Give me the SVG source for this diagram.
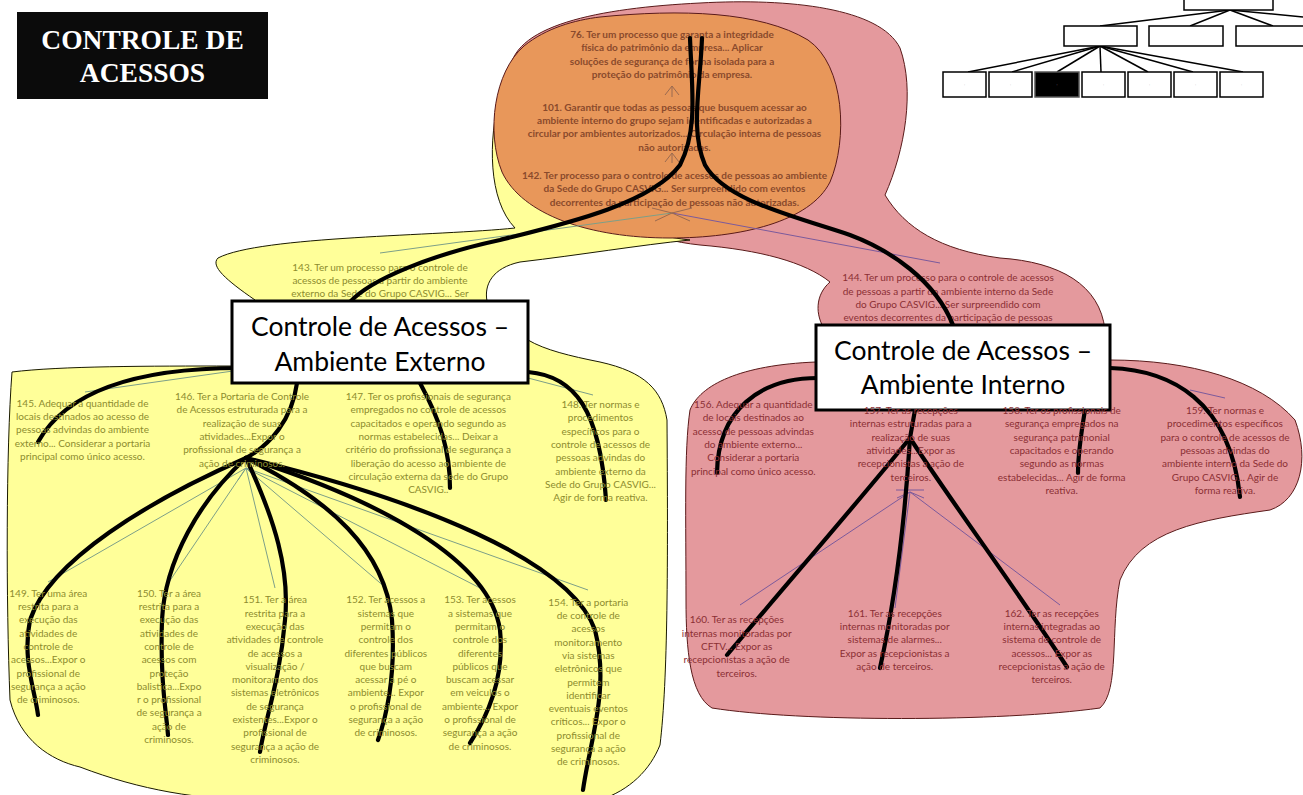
<svg xmlns="http://www.w3.org/2000/svg" width="1303" height="795" viewBox="0 0 1303 795">
<style>
  .ty { font-family: Lato, "Liberation Sans", sans-serif; font-size: 10px; fill: #8d8c2e; text-anchor: middle; }
  .tr { font-family: Lato, "Liberation Sans", sans-serif; font-size: 10px; fill: #8b2f34; text-anchor: middle; }
  .to { font-family: Lato, "Liberation Sans", sans-serif; font-size: 10px; fill: #8a4a2c; text-anchor: middle; font-weight: bold; }
  .box { fill: #ffffff; stroke: #000000; stroke-width: 3; }
  .boxt { font-family: Lato, "Liberation Sans", sans-serif; font-size: 26.5px; fill: #000000; text-anchor: middle; }
  .thick { fill: none; stroke: #000000; stroke-width: 4.2; stroke-linecap: round; }
  .thg { fill: none; stroke: #7d9f88; stroke-width: 1; }
  .thp { fill: none; stroke: #7b5a9c; stroke-width: 1; }
  .tho { fill: none; stroke: #9a6a50; stroke-width: 1; }
  .mm { fill: #ffffff; stroke: #000000; stroke-width: 1.5; }
  .mml { stroke: #000000; stroke-width: 1.5; }
  .mmt { font-family: "Liberation Sans", sans-serif; font-size: 4px; fill: #aaaaaa; text-anchor: middle; }
</style>

<!-- title block -->
<g id="title">
  <rect x="17" y="12" width="251" height="87" fill="#0b0b0b"/>
  <text x="142.5" y="48.5" font-family="'Liberation Serif', serif" font-weight="bold" font-size="27.5" fill="#ffffff" text-anchor="middle">CONTROLE DE</text>
  <text x="142.5" y="81.7" font-family="'Liberation Serif', serif" font-weight="bold" font-size="27.5" fill="#ffffff" text-anchor="middle">ACESSOS</text>
</g>

<!-- overview tree, top right -->
<g id="overview">
  <line class="mml" x1="1230" y1="10" x2="1100" y2="26"/>
  <line class="mml" x1="1230" y1="10" x2="1190" y2="26"/>
  <line class="mml" x1="1230" y1="10" x2="1273" y2="26"/>
  <line class="mml" x1="1230" y1="10" x2="1303" y2="17"/>
  <line class="mml" x1="1100" y1="46" x2="968" y2="72"/>
  <line class="mml" x1="1100" y1="46" x2="1012" y2="72"/>
  <line class="mml" x1="1100" y1="46" x2="1057" y2="72"/>
  <line class="mml" x1="1100" y1="46" x2="1101" y2="72"/>
  <line class="mml" x1="1100" y1="46" x2="1148" y2="72"/>
  <line class="mml" x1="1100" y1="46" x2="1193" y2="72"/>
  <line class="mml" x1="1100" y1="46" x2="1243" y2="72"/>
  <rect class="mm" x="1184" y="-4" width="89" height="14"/>
  <rect class="mm" x="1064" y="26" width="73" height="20"/>
  <rect class="mm" x="1149" y="26" width="74" height="20"/>
  <rect class="mm" x="1236" y="26" width="74" height="20"/>
  <rect class="mm" x="943" y="72" width="43" height="25"/>
  <rect class="mm" x="989" y="72" width="43" height="25"/>
  <rect x="1035" y="72" width="44" height="25" fill="#000000" stroke="#555555" stroke-width="1.5"/>
  <rect class="mm" x="1082" y="72" width="43" height="25"/>
  <rect class="mm" x="1128" y="72" width="43" height="25"/>
  <rect class="mm" x="1174" y="72" width="43" height="25"/>
  <rect class="mm" x="1220" y="72" width="43" height="25"/>
  <text class="mmt" x="964.5" y="86">:</text>
  <text class="mmt" x="1010.5" y="86">:</text>
  <text class="mmt" x="1057" y="86" fill="#777777">:</text>
  <text class="mmt" x="1103.5" y="86">:</text>
  <text class="mmt" x="1149.5" y="86">:</text>
  <text class="mmt" x="1195.5" y="86">:</text>
  <text class="mmt" x="1241.5" y="86">:</text>
</g>

<!-- internal access area -->
<g id="area-interno">
  <path d="M 510,75 C 508,25 600,8 700,3 C 790,-2 880,8 900,48 C 915,90 905,150 885,195 C 905,228 940,250 1000,258 C 1060,262 1100,285 1105,330 L 1110,360 C 1190,360 1260,380 1295,420 C 1310,460 1300,500 1270,510 C 1200,520 1140,530 1120,580 C 1110,630 1120,690 1100,708 C 1000,722 800,722 712,708 C 690,695 686,650 686,600 C 686,520 684,450 690,410 C 700,385 740,365 816,362 L 825,330 C 815,315 815,295 830,282 C 805,262 760,250 700,245 C 600,235 515,160 510,75 Z" fill="#e4999d" stroke="#5a1a1a" stroke-width="1"/>
</g>

<!-- external access area -->
<g id="area-externo">
  <path d="M 500,95 C 488,140 488,200 515,228 C 440,236 260,236 218,258 C 210,266 226,280 255,300 L 232,366 C 150,366 60,366 12,372 C 6,450 6,600 10,700 C 20,740 50,760 80,767 C 140,790 200,800 260,800 L 600,800 C 630,790 650,770 660,745 C 668,680 668,560 667,420 C 662,390 645,372 600,362 C 570,356 545,350 528,340 L 528,301 L 487,301 C 484,285 492,268 520,262 C 580,255 640,245 690,240 C 600,230 530,180 500,95 Z" fill="#ffff99" stroke="#1a1a00" stroke-width="1"/>
</g>

<!-- company-wide area -->
<g id="area-empresa">
  <path d="M 600,17 C 680,9 760,11 808,40 C 845,65 848,140 830,182 C 810,222 740,238 670,238 C 590,238 522,215 502,172 C 486,132 494,72 524,46 C 546,28 575,20 600,17 Z" fill="#e8975a" stroke="#5a1a1a" stroke-width="1"/>
</g>

<!-- thin relation lines with open arrowheads -->
<g id="relations">
  <path class="tho" d="M 672,86 L 672,97 M 665,95 L 672,86 L 679,95"/>
  <path class="tho" d="M 672,153 L 672,163 M 665,162 L 672,153 L 679,162"/>
  <path class="thg" d="M 380,253 L 672,213"/>
  <path class="thp" d="M 940,263 L 672,213"/>
  <path class="tho" d="M 655,221 L 672,213 L 690,221 M 652,208 L 672,213 L 692,208"/>
  <path class="thg" d="M 85,392 L 240,370"/>
  <path class="thg" d="M 593,395 L 528,378"/>
  <path class="thg" d="M 48,582 L 246,468 M 169,582 L 246,468 M 275,588 L 246,468 M 386,588 L 246,468 M 480,588 L 246,468 M 588,590 L 246,468"/>
  <path class="thg" d="M 238,480 L 246,468 L 256,478"/>
  <path class="thp" d="M 740,605 L 910,492 M 895,608 L 910,492 M 1060,605 L 910,492"/>
  <path class="thp" d="M 897,498 L 910,492 L 924,498 M 896,490 L 924,490"/>
  <path class="thp" d="M 1190,390 L 1225,398"/>
</g>

<!-- texts of the company-wide area -->
<g id="n76">
  <text class="to" x="672" y="38">76. Ter um processo que garanta a integridade</text>
  <text class="to" x="672" y="51.3">física do patrimônio da empresa... Aplicar</text>
  <text class="to" x="672" y="64.6">soluções de segurança de forma isolada para a</text>
  <text class="to" x="672" y="78">proteção do patrimônio da empresa.</text>
</g>
<g id="n101">
  <text class="to" x="674.5" y="110.7">101. Garantir que todas as pessoas que busquem acessar ao</text>
  <text class="to" x="674.5" y="124">ambiente interno do grupo sejam identificadas e autorizadas a</text>
  <text class="to" x="674.5" y="137.3">circular por ambientes autorizados... Circulação interna de pessoas</text>
  <text class="to" x="674.5" y="150.6">não autorizadas.</text>
</g>
<g id="n142">
  <text class="to" x="674.5" y="179">142. Ter processo para o controle de acessos de pessoas ao ambiente</text>
  <text class="to" x="674.5" y="192.3">da Sede do Grupo CASVIG... Ser surpreendido com eventos</text>
  <text class="to" x="674.5" y="205.6">decorrentes da participação de pessoas não autorizadas.</text>
</g>

<!-- area labels -->
<g id="n143">
  <text class="ty" x="380" y="270.7">143. Ter um processo para o controle de</text>
  <text class="ty" x="380" y="284">acessos de pessoas a partir do ambiente</text>
  <text class="ty" x="380" y="297.3">externo da Sede do Grupo CASVIG... Ser</text>
</g>
<g id="n144">
  <text class="tr" x="948" y="281.3">144. Ter um processo para o controle de acessos</text>
  <text class="tr" x="948" y="294.6">de pessoas a partir do ambiente interno da Sede</text>
  <text class="tr" x="948" y="307.9">do Grupo CASVIG... Ser surpreendido com</text>
  <text class="tr" x="948" y="321.2">eventos decorrentes da participação de pessoas</text>
</g>

<!-- tree connectors -->
<g id="connectors">
  <path class="thick" d="M 690,38 C 692,90 698,130 680,165 C 650,205 560,225 500,240 C 430,255 370,280 350,302"/>
  <path class="thick" d="M 702,38 C 700,90 690,130 705,165 C 725,200 790,215 850,235 C 890,250 935,280 953,325"/>
  <path class="thick" d="M 240,368 C 150,368 70,385 38,442"/>
  <path class="thick" d="M 297,383 C 292,420 270,445 246,458"/>
  <path class="thick" d="M 420,383 C 440,420 450,450 450,488"/>
  <path class="thick" d="M 528,372 C 575,376 600,410 606,500"/>
  <path class="thick" d="M 246,458 C 150,500 50,560 30,620 C 22,660 35,690 38,715"/>
  <path class="thick" d="M 246,458 C 200,500 165,560 162,620 C 160,680 166,710 168,735"/>
  <path class="thick" d="M 246,458 C 275,520 290,570 285,620 C 280,680 265,720 260,752"/>
  <path class="thick" d="M 246,458 C 330,500 385,550 392,620 C 396,680 385,720 378,740"/>
  <path class="thick" d="M 246,458 C 380,500 490,560 500,630 C 505,680 485,720 470,743"/>
  <path class="thick" d="M 246,458 C 420,500 570,560 595,630 C 610,690 590,740 583,790"/>
  <path class="thick" d="M 818,378 C 760,378 718,410 717,473"/>
  <path class="thick" d="M 915,410 L 910,438"/>
  <path class="thick" d="M 910,438 C 860,500 790,580 727,655"/>
  <path class="thick" d="M 910,438 C 905,520 895,600 880,668"/>
  <path class="thick" d="M 910,438 C 950,500 1010,580 1067,667"/>
  <path class="thick" d="M 1085,410 C 1080,440 1078,455 1078,473"/>
  <path class="thick" d="M 1110,368 C 1170,370 1230,400 1240,497"/>
</g>

<!-- main branch boxes -->
<g id="externo">
  <rect class="box" x="232" y="301" width="296" height="82"/>
  <text class="boxt" x="380" y="336">Controle de Acessos –</text>
  <text class="boxt" x="380" y="371">Ambiente Externo</text>
</g>
<g id="interno">
  <rect class="box" x="816" y="325" width="294" height="85"/>
  <text class="boxt" x="963" y="360">Controle de Acessos –</text>
  <text class="boxt" x="963" y="394">Ambiente Interno</text>
</g>

<!-- external branch items -->
<g id="n145">
  <text class="ty" x="82.5" y="406.7">145. Adequar a quantidade de</text>
  <text class="ty" x="82.5" y="420">locais destinados ao acesso de</text>
  <text class="ty" x="82.5" y="433.3">pessoas advindas do ambiente</text>
  <text class="ty" x="82.5" y="446.6">externo... Considerar a portaria</text>
  <text class="ty" x="82.5" y="459.9">principal como único acesso.</text>
</g>
<g id="n146">
  <text class="ty" x="242" y="400">146. Ter a Portaria de Controle</text>
  <text class="ty" x="242" y="413.3">de Acessos estruturada para a</text>
  <text class="ty" x="242" y="426.6">realização de suas</text>
  <text class="ty" x="242" y="439.9">atividades...Expor o</text>
  <text class="ty" x="242" y="453.2">profissional de segurança a</text>
  <text class="ty" x="242" y="466.5">ação de criminosos.</text>
</g>
<g id="n147">
  <text class="ty" x="428.3" y="400">147. Ter os profissionais de segurança</text>
  <text class="ty" x="428.3" y="413.3">empregados no controle de acessos</text>
  <text class="ty" x="428.3" y="426.6">capacitados e operando segundo as</text>
  <text class="ty" x="428.3" y="439.9">normas estabelecidas... Deixar a</text>
  <text class="ty" x="428.3" y="453.2">critério do profissional de segurança a</text>
  <text class="ty" x="428.3" y="466.5">liberação do acesso ao ambiente de</text>
  <text class="ty" x="428.3" y="479.8">circulação externa da sede do Grupo</text>
  <text class="ty" x="428.3" y="493.1">CASVIG..</text>
</g>
<g id="n148">
  <text class="ty" x="600.5" y="408">148. Ter normas e</text>
  <text class="ty" x="600.5" y="421.3">procedimentos</text>
  <text class="ty" x="600.5" y="434.6">específicos para o</text>
  <text class="ty" x="600.5" y="447.9">controle de acessos de</text>
  <text class="ty" x="600.5" y="461.2">pessoas advindas do</text>
  <text class="ty" x="600.5" y="474.5">ambiente externo da</text>
  <text class="ty" x="600.5" y="487.8">Sede do Grupo CASVIG...</text>
  <text class="ty" x="600.5" y="501.1">Agir de forma reativa.</text>
</g>
<g id="n149">
  <text class="ty" x="48.3" y="596.7">149. Ter uma área</text>
  <text class="ty" x="48.3" y="610">restrita para a</text>
  <text class="ty" x="48.3" y="623.3">execução das</text>
  <text class="ty" x="48.3" y="636.6">atividades de</text>
  <text class="ty" x="48.3" y="649.9">controle de</text>
  <text class="ty" x="48.3" y="663.2">acessos...Expor o</text>
  <text class="ty" x="48.3" y="676.5">profissional de</text>
  <text class="ty" x="48.3" y="689.8">segurança a ação</text>
  <text class="ty" x="48.3" y="703.1">de criminosos.</text>
</g>
<g id="n150">
  <text class="ty" x="169" y="596.7">150. Ter a área</text>
  <text class="ty" x="169" y="610">restrita para a</text>
  <text class="ty" x="169" y="623.3">execução das</text>
  <text class="ty" x="169" y="636.6">atividades de</text>
  <text class="ty" x="169" y="649.9">controle de</text>
  <text class="ty" x="169" y="663.2">acessos com</text>
  <text class="ty" x="169" y="676.5">proteção</text>
  <text class="ty" x="169" y="689.8">balistica...Expo</text>
  <text class="ty" x="169" y="703.1">r o profissional</text>
  <text class="ty" x="169" y="716.4">de segurança a</text>
  <text class="ty" x="169" y="729.7">ação de</text>
  <text class="ty" x="169" y="743">criminosos.</text>
</g>
<g id="n151">
  <text class="ty" x="275" y="603.3">151. Ter a área</text>
  <text class="ty" x="275" y="616.6">restrita para a</text>
  <text class="ty" x="275" y="629.9">execução das</text>
  <text class="ty" x="275" y="643.2">atividades de controle</text>
  <text class="ty" x="275" y="656.5">de acessos a</text>
  <text class="ty" x="275" y="669.8">visualização /</text>
  <text class="ty" x="275" y="683.1">monitoramento dos</text>
  <text class="ty" x="275" y="696.4">sistemas eletrônicos</text>
  <text class="ty" x="275" y="709.7">de segurança</text>
  <text class="ty" x="275" y="723">existentes...Expor o</text>
  <text class="ty" x="275" y="736.3">profissional de</text>
  <text class="ty" x="275" y="749.6">segurança a ação de</text>
  <text class="ty" x="275" y="762.9">criminosos.</text>
</g>
<g id="n152">
  <text class="ty" x="385.8" y="603.3">152. Ter acessos a</text>
  <text class="ty" x="385.8" y="616.6">sistemas que</text>
  <text class="ty" x="385.8" y="629.9">permitam o</text>
  <text class="ty" x="385.8" y="643.2">controle dos</text>
  <text class="ty" x="385.8" y="656.5">diferentes públicos</text>
  <text class="ty" x="385.8" y="669.8">que buscam</text>
  <text class="ty" x="385.8" y="683.1">acessar a pé o</text>
  <text class="ty" x="385.8" y="696.4">ambiente... Expor</text>
  <text class="ty" x="385.8" y="709.7">o profissional de</text>
  <text class="ty" x="385.8" y="723">segurança a ação</text>
  <text class="ty" x="385.8" y="736.3">de criminosos.</text>
</g>
<g id="n153">
  <text class="ty" x="480" y="603.3">153. Ter acessos</text>
  <text class="ty" x="480" y="616.6">a sistemas que</text>
  <text class="ty" x="480" y="629.9">permitam o</text>
  <text class="ty" x="480" y="643.2">controle dos</text>
  <text class="ty" x="480" y="656.5">diferentes</text>
  <text class="ty" x="480" y="669.8">públicos que</text>
  <text class="ty" x="480" y="683.1">buscam acessar</text>
  <text class="ty" x="480" y="696.4">em veiculos o</text>
  <text class="ty" x="480" y="709.7">ambiente... Expor</text>
  <text class="ty" x="480" y="723">o profissional de</text>
  <text class="ty" x="480" y="736.3">segurança a ação</text>
  <text class="ty" x="480" y="749.6">de criminosos.</text>
</g>
<g id="n154">
  <text class="ty" x="588.3" y="605.7">154. Ter a portaria</text>
  <text class="ty" x="588.3" y="619">de controle de</text>
  <text class="ty" x="588.3" y="632.3">acessos</text>
  <text class="ty" x="588.3" y="645.6">monitoramento</text>
  <text class="ty" x="588.3" y="658.9">via sistemas</text>
  <text class="ty" x="588.3" y="672.2">eletrônicos que</text>
  <text class="ty" x="588.3" y="685.5">permitem</text>
  <text class="ty" x="588.3" y="698.8">identificar</text>
  <text class="ty" x="588.3" y="712.1">eventuais eventos</text>
  <text class="ty" x="588.3" y="725.4">críticos... Expor o</text>
  <text class="ty" x="588.3" y="738.7">profissional de</text>
  <text class="ty" x="588.3" y="752">segurança a ação</text>
  <text class="ty" x="588.3" y="765.3">de criminosos.</text>
</g>

<!-- internal branch items -->
<g id="n156">
  <text class="tr" x="753.3" y="408">156. Adequar a quantidade</text>
  <text class="tr" x="753.3" y="421.3">de locais destinados ao</text>
  <text class="tr" x="753.3" y="434.6">acesso de pessoas advindas</text>
  <text class="tr" x="753.3" y="447.9">do ambiente externo...</text>
  <text class="tr" x="753.3" y="461.2">Considerar a portaria</text>
  <text class="tr" x="753.3" y="474.5">principal como único acesso.</text>
</g>
<g id="n157">
  <text class="tr" x="910.8" y="414">157. Ter as recepções</text>
  <text class="tr" x="910.8" y="427.3">internas estruturadas para a</text>
  <text class="tr" x="910.8" y="440.6">realização de suas</text>
  <text class="tr" x="910.8" y="453.9">atividades...Expor as</text>
  <text class="tr" x="910.8" y="467.2">recepcionistas a ação de</text>
  <text class="tr" x="910.8" y="480.5">terceiros.</text>
</g>
<g id="n158">
  <text class="tr" x="1061.7" y="414">158. Ter os profissionais de</text>
  <text class="tr" x="1061.7" y="427.3">segurança empregados na</text>
  <text class="tr" x="1061.7" y="440.6">segurança patrimonial</text>
  <text class="tr" x="1061.7" y="453.9">capacitados e operando</text>
  <text class="tr" x="1061.7" y="467.2">segundo as normas</text>
  <text class="tr" x="1061.7" y="480.5">estabelecidas... Agir de forma</text>
  <text class="tr" x="1061.7" y="493.8">reativa.</text>
</g>
<g id="n159">
  <text class="tr" x="1225" y="414">159. Ter normas e</text>
  <text class="tr" x="1225" y="427.3">procedimentos específicos</text>
  <text class="tr" x="1225" y="440.6">para o controle de acessos de</text>
  <text class="tr" x="1225" y="453.9">pessoas advindas do</text>
  <text class="tr" x="1225" y="467.2">ambiente interno da Sede do</text>
  <text class="tr" x="1225" y="480.5">Grupo CASVIG... Agir de</text>
  <text class="tr" x="1225" y="493.8">forma reativa.</text>
</g>
<g id="n160">
  <text class="tr" x="736.7" y="623.3">160. Ter as recepções</text>
  <text class="tr" x="736.7" y="636.6">internas monitoradas por</text>
  <text class="tr" x="736.7" y="649.9">CFTV... Expor as</text>
  <text class="tr" x="736.7" y="663.2">recepcionistas a ação de</text>
  <text class="tr" x="736.7" y="676.5">terceiros.</text>
</g>
<g id="n161">
  <text class="tr" x="894.7" y="616.7">161. Ter as recepções</text>
  <text class="tr" x="894.7" y="630">internas monitoradas por</text>
  <text class="tr" x="894.7" y="643.3">sistemas de alarmes...</text>
  <text class="tr" x="894.7" y="656.6">Expor as recepcionistas a</text>
  <text class="tr" x="894.7" y="669.9">ação de terceiros.</text>
</g>
<g id="n162">
  <text class="tr" x="1051.7" y="616.7">162. Ter as recepções</text>
  <text class="tr" x="1051.7" y="630">internas integradas ao</text>
  <text class="tr" x="1051.7" y="643.3">sistema de controle de</text>
  <text class="tr" x="1051.7" y="656.6">acessos... Expor as</text>
  <text class="tr" x="1051.7" y="669.9">recepcionistas a ação de</text>
  <text class="tr" x="1051.7" y="683.2">terceiros.</text>
</g>
</svg>
